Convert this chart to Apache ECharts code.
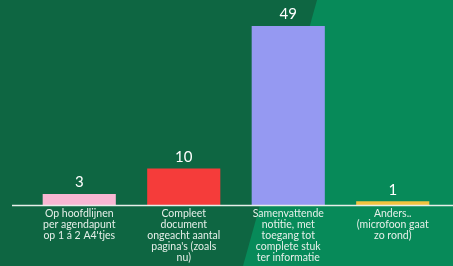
<!DOCTYPE html>
<html>
<head>
<meta charset="utf-8">
<script src="https://cdn.jsdelivr.net/npm/echarts@6/dist/echarts.min.js"></script>
<style>
  html, body { margin: 0; padding: 0; background: #0e6642; }
  #chart { width: 453px; height: 266px; }
</style>
</head>
<body>
<div id="chart"></div>
<script>
var categories = [
    'Op hoofdlijnen\nper agendapunt\nop 1 á 2 A4\'tjes',
    'Compleet\ndocument\nongeacht aantal\npagina\'s (zoals\nnu)',
    'Samenvattende\nnotitie, met\ntoegang tot\ncomplete stuk\nter informatie',
    'Anders..\n(microfoon gaat\nzo rond)'
];
var votes = [3, 10, 49, 1];
var barColors = ['#f8b7d3', '#f53c3a', '#9599f2', '#f1c33f'];

var myChart = echarts.init(document.getElementById('chart'));

var option = {
    backgroundColor: '#0e6642',
    animation: false,
    graphic: [
        {
            // lichtere diagonale vlak rechts
            type: 'polygon',
            z: -10,
            silent: true,
            shape: { points: [[317, 0], [453, 0], [453, 266], [243, 266]] },
            style: { fill: '#078a59' }
        },
        {
            type: 'line',
            z: 10,
            silent: true,
            shape: { x1: 12, y1: 205.5, x2: 453, y2: 205.5 },
            style: { stroke: '#e6efe9', lineWidth: 1.5 }
        }
    ],
    grid: { left: 27, right: 8, top: 26, bottom: 61 },
    xAxis: {
        type: 'category',
        data: categories,
        axisLine: { show: false },
        axisTick: { show: false },
        axisLabel: {
            color: '#e6efe9',
            fontFamily: 'Lato',
            fontSize: 10.5,
            lineHeight: 11,
            margin: 3,
            interval: 0
        }
    },
    yAxis: {
        type: 'value',
        min: 0,
        max: 49,
        show: false,
        splitLine: { show: false }
    },
    series: [{
        type: 'bar',
        barCategoryGap: '30%',
        data: votes.map(function (v, i) {
            return { value: v, itemStyle: { color: barColors[i] } };
        }),
        label: {
            show: true,
            position: 'top',
            distance: 4,
            color: '#ffffff',
            fontFamily: 'Lato',
            fontSize: 15
        }
    }]
};

myChart.setOption(option);
</script>
</body>
</html>
